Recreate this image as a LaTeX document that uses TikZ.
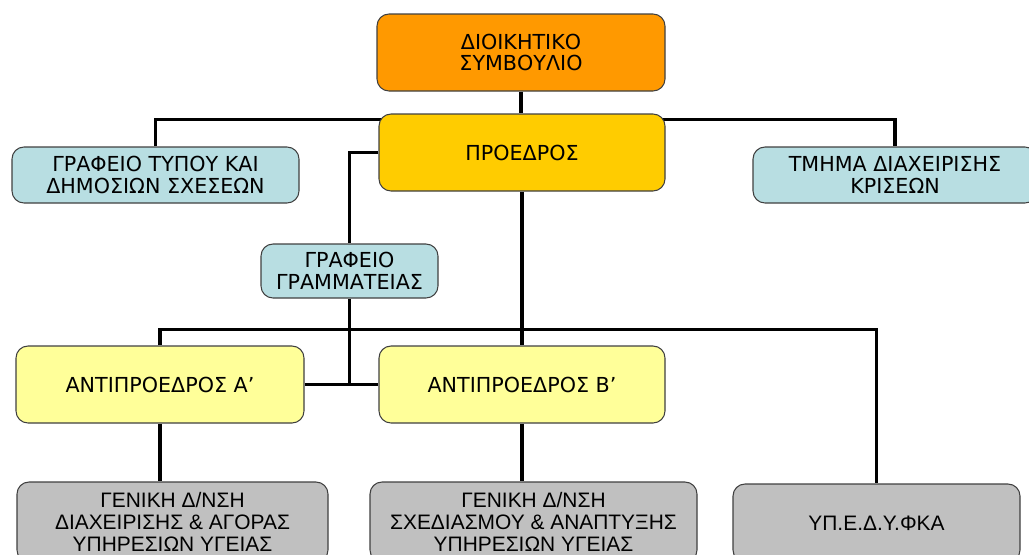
\documentclass[tikz,border=0pt]{standalone}
\usepackage{fontspec}
\setmainfont{DejaVu Sans}
\newfontfamily\arialf{Liberation Sans}
\usetikzlibrary{backgrounds}
\definecolor{cOrange}{HTML}{FF9900}
\definecolor{cGold}{HTML}{FFCC00}
\definecolor{cBlue}{HTML}{B8DEE2}
\definecolor{cYellow}{HTML}{FFFF99}
\definecolor{cGray}{HTML}{C0C0C0}
\definecolor{cEdge}{HTML}{404040}
\tikzset{
  box/.style={draw=cEdge, line width=0.8pt, rounded corners=9pt, align=center, inner sep=0pt},
  topfont/.style={font=\fontsize{15.5}{16.2}\selectfont},
  grayfont/.style={font=\arialf\fontsize{15.7}{16.3}\selectfont},
  conn/.style={draw=black, line width=2.3pt}
}
\begin{document}
\begin{tikzpicture}[x=0.75pt,y=-0.75pt]
\useasboundingbox (0,0) rectangle (1029,554);
\clip (0,0) rectangle (1029,554);
\node[box, topfont, fill=cOrange, minimum width=216pt, minimum height=57.75pt] (ds) at (521,52.5) {ΔΙΟΙΚΗΤΙΚΟ\\ΣΥΜΒΟΥΛΙΟ};
\node[box, topfont, fill=cGold, minimum width=214.5pt, minimum height=57.75pt] (pr) at (522,152.5) {ΠΡΟΕΔΡΟΣ};
\node[box, topfont, fill=cBlue, minimum width=215.25pt, minimum height=42pt] (gt) at (155.5,175) {ΓΡΑΦΕΙΟ ΤΥΠΟΥ ΚΑΙ\\ΔΗΜΟΣΙΩΝ ΣΧΕΣΕΩΝ};
\node[box, topfont, fill=cBlue, minimum width=213pt, minimum height=42pt] (tm) at (895,175) {ΤΜΗΜΑ ΔΙΑΧΕΙΡΙΣΗΣ\\ΚΡΙΣΕΩΝ};
\node[box, topfont, fill=cBlue, minimum width=132.75pt, minimum height=40.5pt] (gg) at (349.5,271) {ΓΡΑΦΕΙΟ\\ΓΡΑΜΜΑΤΕΙΑΣ};
\node[box, topfont, fill=cYellow, minimum width=216pt, minimum height=57.75pt] (aa) at (160,384.5) {ΑΝΤΙΠΡΟΕΔΡΟΣ Α’};
\node[box, topfont, fill=cYellow, minimum width=214.5pt, minimum height=57.75pt] (ab) at (522,384.5) {ΑΝΤΙΠΡΟΕΔΡΟΣ Β’};
\node[box, grayfont, fill=cGray, minimum width=233.25pt, minimum height=60pt] (g1) at (172.5,522) {ΓΕΝΙΚΗ Δ/ΝΣΗ\\ΔΙΑΧΕΙΡΙΣΗΣ \& ΑΓΟΡΑΣ\\ΥΠΗΡΕΣΙΩΝ ΥΓΕΙΑΣ};
\node[box, grayfont, fill=cGray, minimum width=245.25pt, minimum height=60pt] (g2) at (533.5,522) {ΓΕΝΙΚΗ Δ/ΝΣΗ\\ΣΧΕΔΙΑΣΜΟΥ \& ΑΝΑΠΤΥΞΗΣ\\ΥΠΗΡΕΣΙΩΝ ΥΓΕΙΑΣ};
\node[box, grayfont, fill=cGray, minimum width=215.25pt, minimum height=58.5pt] (g3) at (876.5,523) {ΥΠ.Ε.Δ.Υ.ΦΚΑ};
\begin{scope}[on background layer]
\draw[conn] (ds.south) -- (ds.south |- pr.north);
\draw[conn] (gt.north) -- ++(0,-27) -| (tm.north);
\draw[conn] (pr.west) -| (gg.north);
\draw[conn] (gg.south) -- (gg.south |- aa.east);
\draw[conn] (aa.east) -- (ab.west);
\draw[conn] (aa.north) -- ++(0,-16) -| (g3.north);
\draw[conn] (pr.south) -- (ab.north);
\draw[conn] (aa.south) -- (aa.south |- g1.north);
\draw[conn] (ab.south) -- (ab.south |- g2.north);
\end{scope}
\end{tikzpicture}
\end{document}
